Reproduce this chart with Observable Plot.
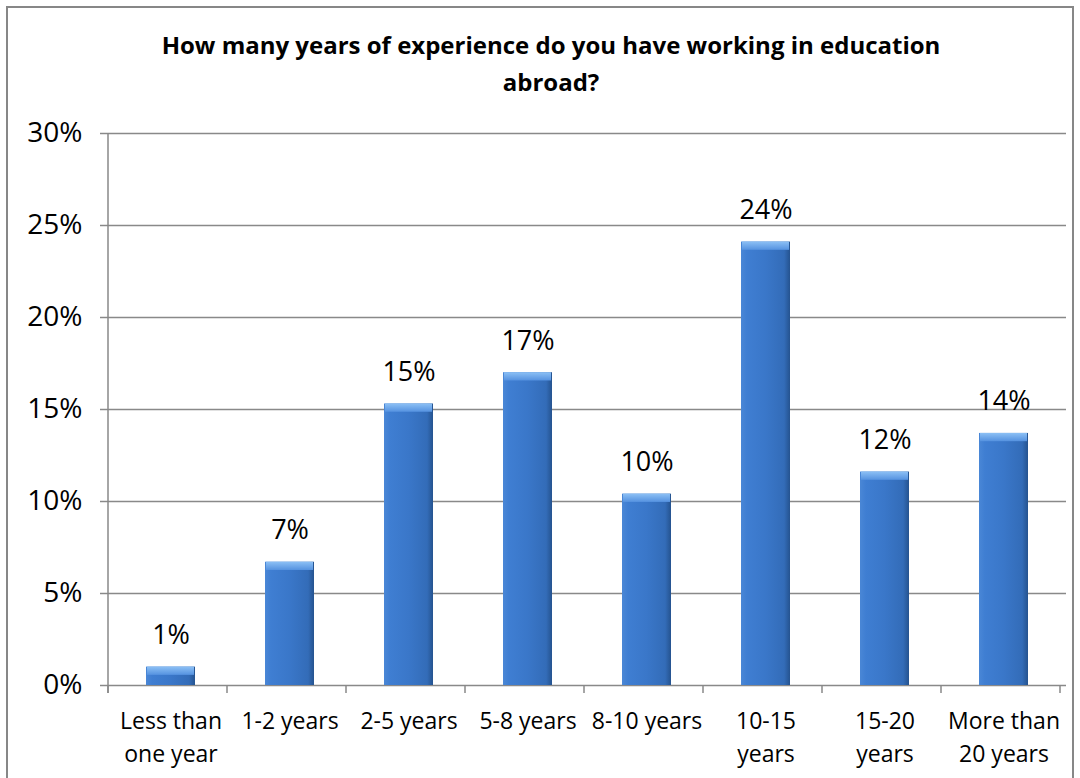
<!DOCTYPE html>
<html>
<head>
<meta charset="utf-8">
<script src="https://cdn.jsdelivr.net/npm/d3@7"></script>
<script src="https://cdn.jsdelivr.net/npm/@observablehq/plot@0.6"></script>
<style>
  html, body { margin: 0; padding: 0; background: #fff; overflow: hidden; }
  #wrap { position: relative; width: 1080px; height: 778px; overflow: hidden; font-family: "Open Sans", sans-serif; }
  #frame { position: absolute; left: 6px; top: 6px; width: 1068px; height: 800px; border: 2px solid #878787; box-sizing: border-box; }
  #title { position: absolute; left: 51px; width: 1000px; top: 26px; text-align: center; font-weight: bold; font-size: 24px; line-height: 37px; color: #000; }
  #chart { position: absolute; left: 0; top: 0; }
</style>
</head>
<body>
<div id="wrap">
  <div id="frame"></div>
  <div id="chart"></div>
  <div id="title">How many years of experience do you have working in education<br>abroad?</div>
</div>
<script>
const categories = ["Less than one year", "1-2 years", "2-5 years", "5-8 years", "8-10 years", "10-15 years", "15-20 years", "More than 20 years"];
const tickLabels = {
  "Less than one year": "Less than\none year",
  "1-2 years": "1-2 years",
  "2-5 years": "2-5 years",
  "5-8 years": "5-8 years",
  "8-10 years": "8-10 years",
  "10-15 years": "10-15\nyears",
  "15-20 years": "15-20\nyears",
  "More than 20 years": "More than\n20 years"
};
const values = [1.0, 6.7, 15.3, 17.0, 10.4, 24.1, 11.6, 13.7];
const valueLabels = ["1%", "7%", "15%", "17%", "10%", "24%", "12%", "14%"];
const yTicks = [0, 5, 10, 15, 20, 25, 30];

const data = categories.map((c, i) => ({cat: c, value: values[i], label: valueLabels[i]}));

const chart = Plot.plot({
  width: 1080,
  height: 778,
  marginLeft: 108,
  marginRight: 14,
  marginTop: 133,
  marginBottom: 93,
  style: {fontFamily: "'Open Sans', sans-serif", background: "transparent", overflow: "visible"},
  x: {domain: categories, paddingInner: 0.59, paddingOuter: 0.295, label: null},
  y: {domain: [0, 30], label: null},
  marks: [
    Plot.ruleY(yTicks, {stroke: "#898989", strokeWidth: 1.5}),
    Plot.barY(data, {x: "cat", y: "value", fill: "url(#barGrad)"}),
    Plot.barY(data, {x: "cat", y1: d => d.value - 0.45, y2: "value", fill: "url(#capGrad)", insetLeft: 1, insetRight: 1}),
    Plot.text(data, {x: "cat", y: "value", text: "label", dy: -23, lineAnchor: "bottom", fontSize: 27, fill: "#000"}),
    Plot.axisY({ticks: yTicks, tickFormat: d => d + "%", tickSize: 8, tickPadding: 18, fontSize: 28, stroke: "#898989", strokeWidth: 1.5, color: "#000"}),
    Plot.axisX({tickSize: 0, tickPadding: 21, fontSize: 23, lineHeight: 1.4, tickFormat: d => tickLabels[d], color: "#000"})
  ]
});

const svg = d3.select(chart);
const defs = svg.insert("defs", ":first-child");
const g1 = defs.append("linearGradient").attr("id", "barGrad").attr("x1", "0").attr("x2", "1").attr("y1", "0").attr("y2", "0");
g1.append("stop").attr("offset", "0").attr("stop-color", "#4a87d6");
g1.append("stop").attr("offset", "0.12").attr("stop-color", "#3f7ed2");
g1.append("stop").attr("offset", "0.5").attr("stop-color", "#3a77c9");
g1.append("stop").attr("offset", "0.88").attr("stop-color", "#336cb8");
g1.append("stop").attr("offset", "1").attr("stop-color", "#25538f");
const g2 = defs.append("linearGradient").attr("id", "capGrad").attr("x1", "0").attr("x2", "0").attr("y1", "0").attr("y2", "1");
g2.append("stop").attr("offset", "0").attr("stop-color", "#8cc0f5");
g2.append("stop").attr("offset", "1").attr("stop-color", "#5592e0");

// axis lines and category boundary ticks from the chart's scales
const xs = chart.scale("x");
const ys = chart.scale("y");
const y0 = ys.apply(0), yTop = ys.apply(30);
const step = xs.step;
const left = xs.range[0];
const boundaries = d3.range(categories.length + 1).map(i => left + i * step);
svg.append("line").attr("x1", left).attr("x2", left).attr("y1", yTop).attr("y2", y0 + 8)
  .attr("stroke", "#898989").attr("stroke-width", 1.5);
svg.append("g").selectAll("line").data(boundaries).join("line")
  .attr("x1", d => d).attr("x2", d => d).attr("y1", y0).attr("y2", y0 + 8)
  .attr("stroke", "#898989").attr("stroke-width", 1.5);

document.getElementById("chart").appendChild(chart);
</script>
</body>
</html>
